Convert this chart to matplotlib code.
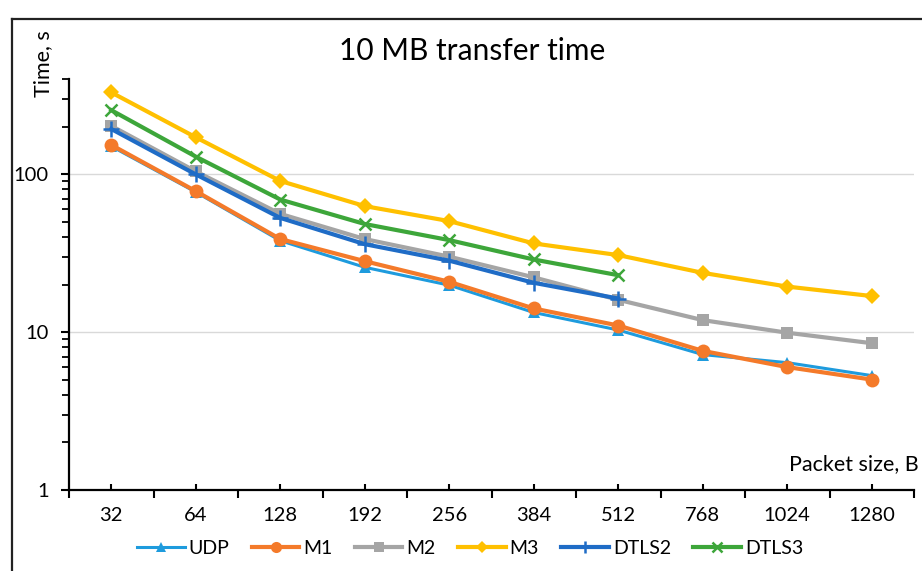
import matplotlib
matplotlib.use("Agg")
import matplotlib.pyplot as plt
from matplotlib.lines import Line2D
from matplotlib.ticker import FixedLocator, NullFormatter

plt.rcParams['font.family'] = ['Lato', 'DejaVu Sans']

categories = ["32", "64", "128", "192", "256", "384", "512", "768", "1024", "1280"]
udp   = [150, 77, 37.9, 25.7, 19.8, 13.3, 10.3, 7.2, 6.4, 5.3]
m1    = [153, 78, 38.8, 28.1, 20.8, 14.1, 11.0, 7.6, 6.0, 5.0]
m2    = [202, 104, 56, 38.8, 30, 22.2, 16.0, 11.9, 9.9, 8.5]
m3    = [329, 171, 90.5, 62.7, 50.4, 36.4, 30.7, 23.7, 19.4, 16.9]
dtls2 = [193, 99.6, 52.8, 36, 28.3, 20.5, 16.3]
dtls3 = [254, 129, 69, 48.3, 38.2, 28.8, 22.9]

series = [
    ("UDP", udp, "#1E9BDD", "^", 2.2, 9),
    ("M1", m1, "#F47A2A", "o", 3.0, 10),
    ("M2", m2, "#A5A5A5", "s", 3.0, 9),
    ("M3", m3, "#FFC000", "D", 3.0, 8),
    ("DTLS2", dtls2, "#1F6CC6", "+", 3.0, 11),
    ("DTLS3", dtls3, "#3DA63A", "x", 3.0, 9),
]

W, H = 922, 571
fig = plt.figure(figsize=(W / 100, H / 100), dpi=100)
ax = fig.add_axes([69 / W, 1 - 490 / H, (914 - 69) / W, (490 - 79) / H])

for name, vals, color, mk, lw, ms in series:
    x = list(range(len(vals)))
    kw = dict(color=color, lw=lw, marker=mk, markersize=ms, label=name,
              solid_joinstyle='round')
    if mk in ("+", "x"):
        kw.update(markeredgewidth=1.8)
    else:
        kw.update(markeredgewidth=0)
    ax.plot(x, vals, **kw)

ax.set_yscale('log')
ax.set_ylim(1, 400)
ax.set_xlim(-0.5, len(categories) - 0.5)

ax.yaxis.set_major_locator(FixedLocator([1, 10, 100]))
ax.set_yticklabels(["1", "10", "100"])
minor_y = [m * d for d in (1, 10, 100) for m in range(2, 10) if m * d <= 400]
ax.yaxis.set_minor_locator(FixedLocator(minor_y))
ax.yaxis.set_minor_formatter(NullFormatter())
ax.tick_params(axis='y', which='major', direction='out', length=5.5, width=1.5,
               labelsize=14.5, pad=9, colors='black')
ax.tick_params(axis='y', which='minor', direction='out', length=5, width=1.3)

ax.set_xticks(range(len(categories)))
ax.set_xticklabels(categories)
ax.xaxis.set_minor_locator(FixedLocator([i - 0.5 for i in range(len(categories) + 1)]))
ax.tick_params(axis='x', which='major', direction='in', length=4, width=1.5,
               labelsize=14.5, pad=12)
ax.tick_params(axis='x', which='minor', direction='out', length=5.5, width=1.5)

ax.grid(axis='y', which='major', color='#D9D9D9', lw=1)
ax.set_axisbelow(True)
for s in ('top', 'right'):
    ax.spines[s].set_visible(False)
for s in ('left', 'bottom'):
    ax.spines[s].set_linewidth(1.6)
    ax.spines[s].set_color('black')

fig.text(472 / W, 1 - 51 / H, "10 MB transfer time", ha='center', va='center',
         fontsize=21.5)
fig.text(43 / W, 1 - 64 / H, "Time, s", rotation=90, ha='center', va='center',
         fontsize=15.5)
fig.text(919 / W, 1 - 464 / H, "Packet size, B", ha='right', va='center',
         fontsize=15.5)

leg = fig.legend(loc='center', bbox_to_anchor=(470 / W, 1 - 548 / H), ncol=6,
                 frameon=False, fontsize=14, handlelength=2.45,
                 handletextpad=0.2, columnspacing=1.15, markerscale=0.8)

fig.add_artist(Line2D([12 / W, 1], [1 - 19 / H, 1 - 19 / H], color='#222222', lw=1.6))
fig.add_artist(Line2D([12 / W, 12 / W], [0, 1 - 19 / H], color='#222222', lw=1.6))

fig.savefig("out.png", dpi=100)
